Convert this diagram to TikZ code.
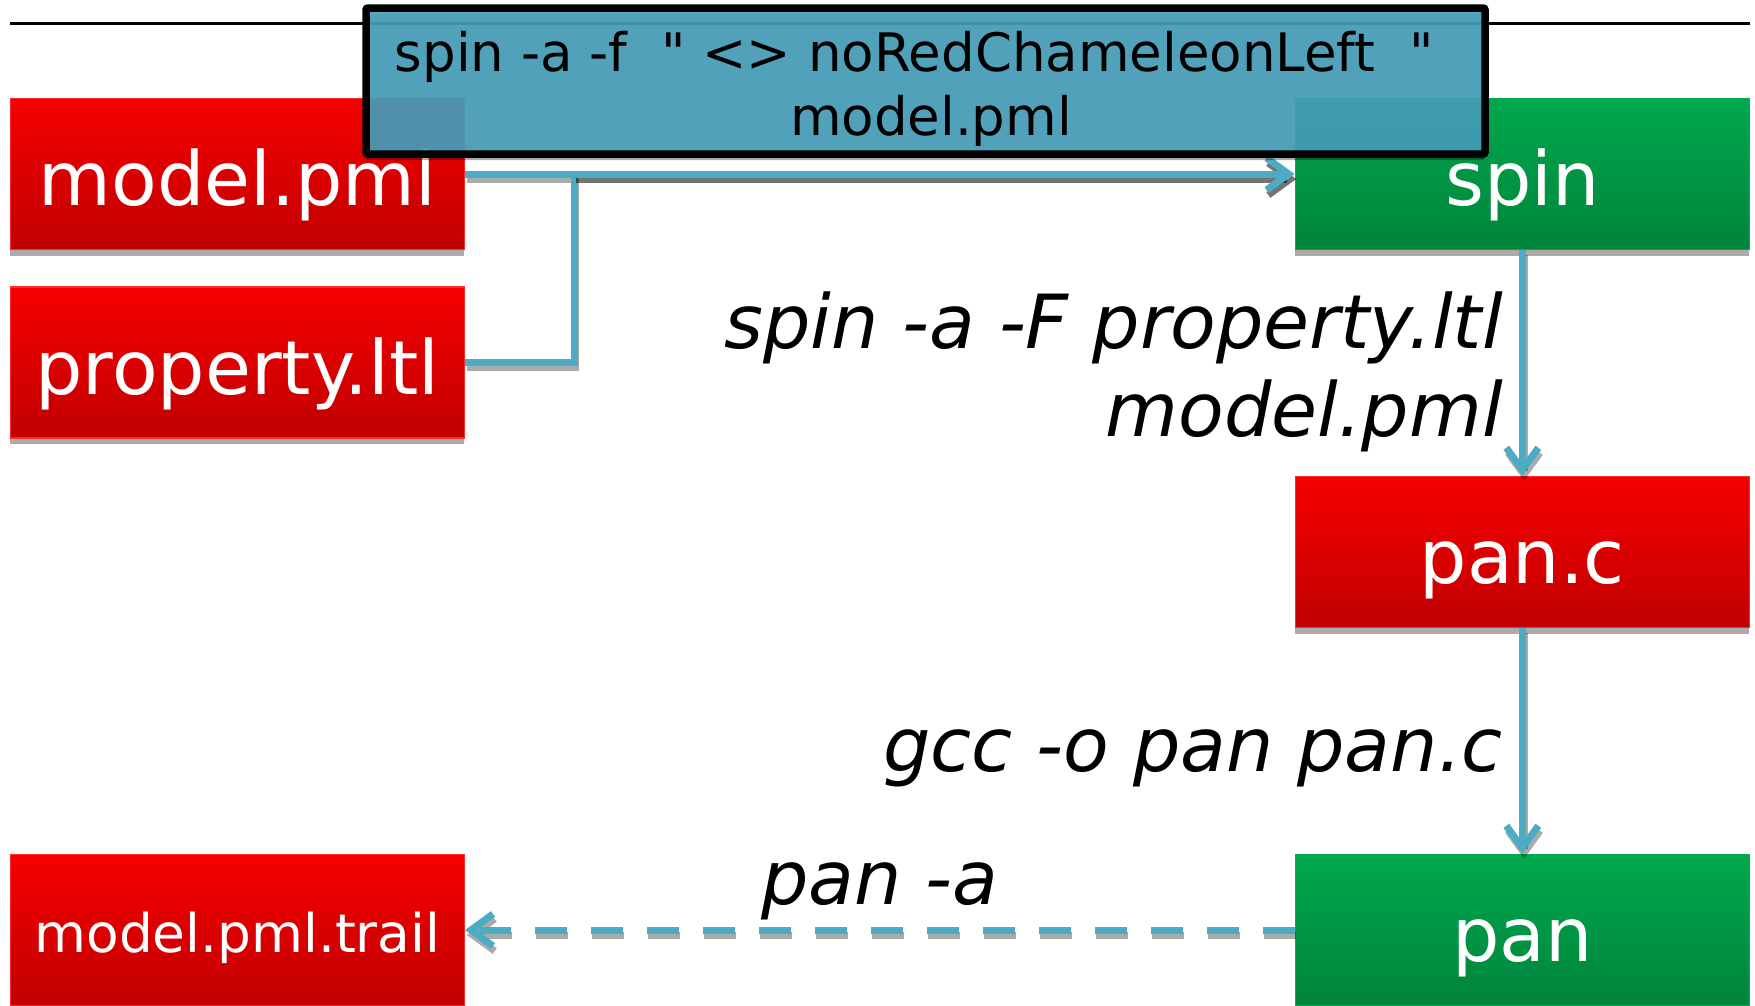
\documentclass[tikz,border=0pt]{standalone}
\usepackage{fontspec}
\setmainfont{DejaVu Sans}
\usetikzlibrary{arrows.meta,shadows}

\definecolor{flowblue}{HTML}{4BACC6}
\definecolor{cmdfill}{HTML}{48A0BD}
\definecolor{filetop}{HTML}{F60000}
\definecolor{filebot}{HTML}{C00000}
\definecolor{fileedge}{HTML}{FF2A2A}
\definecolor{tooltop}{HTML}{00A84D}
\definecolor{toolbot}{HTML}{00843C}
\definecolor{tooledge}{HTML}{00B050}

\newcommand\boxfont{\fontsize{74.7pt}{88.4pt}\selectfont}
\newcommand\trailfont{\fontsize{53.3pt}{64pt}\selectfont}
\newcommand\cmdfont{\fontsize{53pt}{64pt}\selectfont}
\newcommand\stepfont{\fontsize{74.7pt}{88.4pt}\selectfont\itshape}

\begin{document}
\begin{tikzpicture}[x=1pt,y=-1pt,
  box/.style={rectangle,minimum width=454pt,minimum height=151pt,inner sep=0pt,
    line width=1.5pt,text=white,font=\boxfont,text height=74.7pt,text depth=11.3pt,
    drop shadow={shadow xshift=0pt,shadow yshift=-6pt,fill=black,opacity=0.33}},
  file/.style={box,draw=fileedge,top color=filetop,bottom color=filebot},
  tool/.style={box,draw=tooledge,top color=tooltop,bottom color=toolbot},
  flowdash/.style={},
  flow/.style={draw=flowblue,line width=7pt,flowdash,
    preaction={draw=black,line width=7pt,opacity=#1,flowdash,
      transform canvas={xshift=1.7pt,yshift=-5pt}}},
  flow/.default=0.33,
  flowhead/.style={-{Straight Barb[length=22pt,width=32pt]}},
  steplabel/.style={font=\stepfont,inner sep=0pt},
  cmdbox/.style={rectangle,draw=black,line width=7.5pt,fill=cmdfill,fill opacity=0.9,
    rounded corners=2pt,minimum width=1119pt,minimum height=146pt,
    drop shadow={shadow xshift=0pt,shadow yshift=-6pt,fill=black,opacity=0.33}}]

  \useasboundingbox (0,0) rectangle (1755,1005);
  \draw[line width=3pt] (10,23) -- (1750,23);

  % files on the left, tools on the right
  \node (model) [file] at (237.3,174) {model.pml};
  \node (prop)  [file] at (237.3,362.7) {property.ltl};
  \node (trail) [file,font=\trailfont,text height=53.3pt,text depth=8pt] at (237.3,930) {model.pml.trail};
  \node (spin)  [tool] at (1522.3,174) {spin};
  \node (panc)  [file] at (1522.3,552) {pan.c};
  \node (pan)   [tool] at (1522.3,930) {pan};

  \coordinate (joint) at (574,174);
  \draw[flow] (model.east) -- (joint);
  \draw[flow] (prop.east) -| (joint);
  \draw[flow=0.55,flowhead] (joint) -- (spin.west);
  \draw[flow,flowhead] (spin.south) -- (panc.north);
  \draw[flow,flowhead] (panc.south) -- (pan.north);
  \draw[flowdash/.style={dash pattern=on 32pt off 24pt},flow,flowhead] (pan.west) -- (trail.east);

  \node (spinstep) [steplabel,anchor=north east,align=right] at (1503,291.5)
    {spin -a -F property.ltl\\model.pml};
  \node (gccstep) [steplabel,anchor=base east] at (1503,771.7) {gcc -o pan pan.c};
  \node (panstep) [steplabel,anchor=base] at (879.5,904) {pan -a};

  % command line box over the top
  \node (cmd) [cmdbox] at (925.5,81) {};
  \node (cmdtext) [anchor=north,align=center,font=\cmdfont,inner sep=0pt] at (931,30.7)
    {spin -a -f~~\textquotedbl{} <> noRedChameleonLeft~~\textquotedbl\phantom{~~}\\model.pml};
\end{tikzpicture}
\end{document}
